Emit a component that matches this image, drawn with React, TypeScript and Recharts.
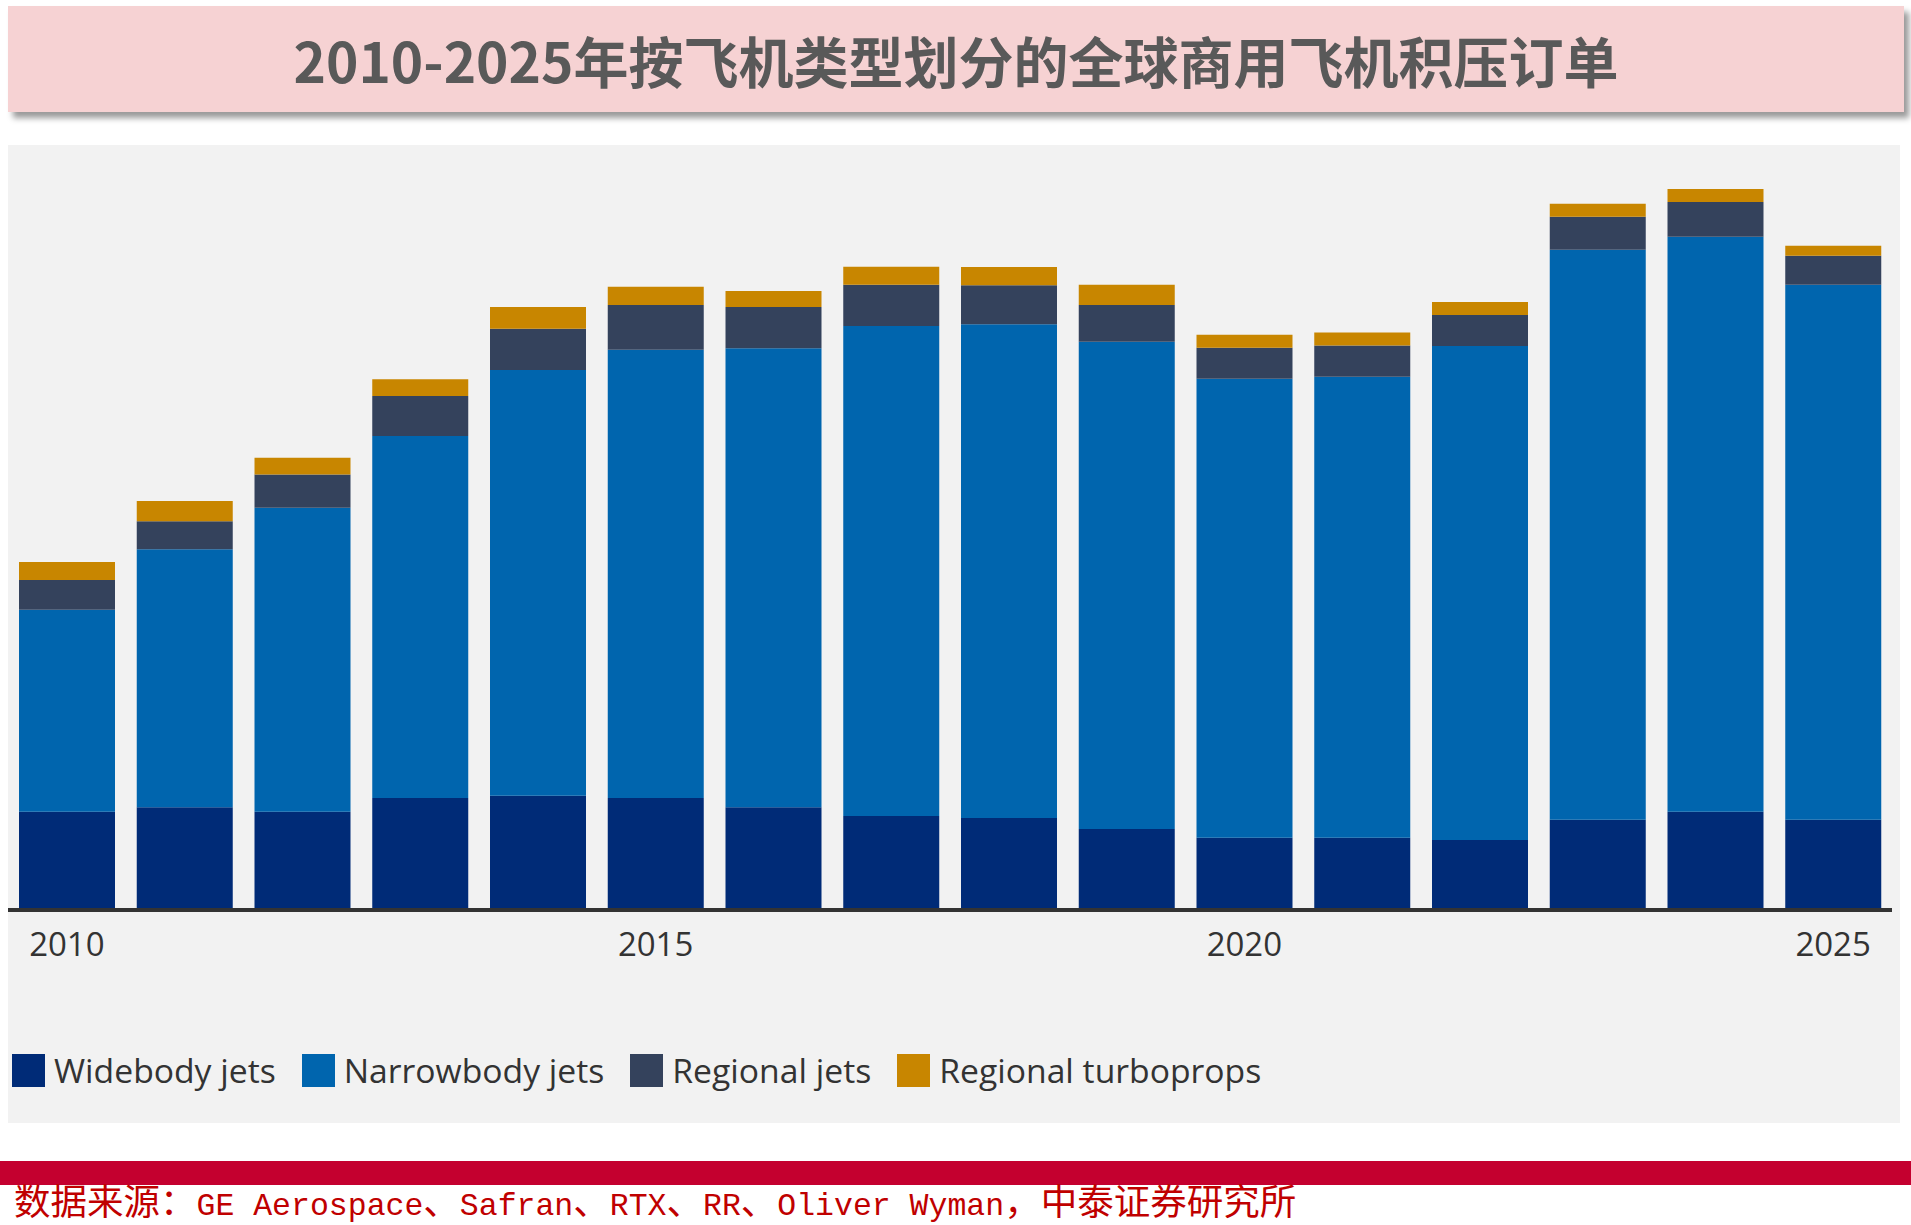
import React from 'react'
import { BarChart, Bar, XAxis, YAxis, CartesianGrid, Legend } from 'recharts'

// values (aircraft in backlog)
const years = [2010, 2011, 2012, 2013, 2014, 2015, 2016, 2017, 2018, 2019, 2020, 2021, 2022, 2023, 2024, 2025]
const widebody = [2290, 2400, 2290, 2620, 2670, 2620, 2400, 2190, 2140, 1880, 1670, 1670, 1620, 2100, 2290, 2100]
const narrowbody = [4810, 6140, 7240, 8620, 10140, 10670, 10930, 11670, 11760, 11600, 10930, 10980, 11760, 13570, 13690, 12740]
const regional = [710, 670, 790, 950, 980, 1070, 980, 980, 930, 880, 740, 740, 740, 790, 830, 690]
const turboprops = [430, 480, 400, 400, 520, 430, 380, 430, 430, 480, 310, 310, 310, 310, 310, 240]
const gridTicks = [5000, 10000, 15000]

const series = [
  { key: 'widebody', name: 'Widebody jets', color: '#002b77' },
  { key: 'narrowbody', name: 'Narrowbody jets', color: '#0065ae' },
  { key: 'regional', name: 'Regional jets', color: '#34425c' },
  { key: 'turboprops', name: 'Regional turboprops', color: '#c88600' },
]

const data = years.map((y, i) => ({
  year: String(y),
  widebody: widebody[i],
  narrowbody: narrowbody[i],
  regional: regional[i],
  turboprops: turboprops[i],
}))

const YearTick = (props: any) => {
  const { x, y, payload } = props
  return (
    <text x={x} y={y + 46} textAnchor="middle" fill="#333" fontSize={33} fontFamily="'Open Sans', sans-serif">
      {payload.value}
    </text>
  )
}

const LegendContent = () => (
  <div style={{ display: 'flex', alignItems: 'center', height: 33, fontFamily: "'Open Sans', sans-serif", fontSize: 33.7, color: '#333', whiteSpace: 'nowrap' }}>
    {series.map((s) => (
      <div key={s.key} style={{ display: 'flex', alignItems: 'center', marginRight: 26 }}>
        <span style={{ display: 'inline-block', width: 33, height: 33, background: s.color, marginRight: 9 }} />
        <span style={{ lineHeight: '33px' }}>{s.name}</span>
      </div>
    ))}
  </div>
)

const cjk = { fontFamily: "'Noto Sans CJK SC'", fontSize: 36.5 }

export default function App() {
  return (
    <div style={{ position: 'absolute', left: 0, top: 0, width: 1911, height: 1225, background: '#fff', overflow: 'hidden' }}>
      {/* title band */}
      <div
        style={{
          position: 'absolute', left: 8, top: 6, width: 1896, height: 106, background: '#f6d2d3',
          boxShadow: '5px 6px 6px rgba(0,0,0,0.4)', display: 'flex', alignItems: 'center', justifyContent: 'center',
          fontFamily: "'Noto Sans CJK SC', sans-serif", fontWeight: 700, fontSize: 55, color: '#595959',
        }}
      >
        2010-2025年按飞机类型划分的全球商用飞机积压订单
      </div>

      {/* chart panel */}
      <div style={{ position: 'absolute', left: 8, top: 145, width: 1892, height: 978, background: '#f2f2f2' }}>
        <BarChart width={1892} height={978} data={data} margin={{ top: 28, right: 8, bottom: 163, left: 0 }} barSize={96}>
          <CartesianGrid
            vertical={false}
            stroke="#e4e4e4"
            strokeWidth={2}
            horizontalCoordinatesGenerator={({ yAxis }: any) =>
              yAxis && typeof yAxis.scale === 'function' ? gridTicks.map((t) => yAxis.scale(t)) : []
            }
          />
          <XAxis
            dataKey="year"
            interval={4}
            height={50}
            tickLine={false}
            tickSize={0}
            tickMargin={0}
            axisLine={{ stroke: '#333', strokeWidth: 4 }}
            tick={<YearTick />}
          />
          <YAxis hide domain={[-48, 17500]} ticks={gridTicks} />
          {series.map((s) => (
            <Bar key={s.key} dataKey={s.key} name={s.name} stackId="a" fill={s.color} isAnimationActive={false} />
          ))}
          <Legend
            layout="horizontal"
            verticalAlign="middle"
            align="center"
            content={<LegendContent />}
            wrapperStyle={{ position: 'absolute', left: 4, top: 909, width: 1500 }}
          />
        </BarChart>
      </div>

      {/* footer */}
      <div style={{ position: 'absolute', left: 0, top: 1161, width: 1911, height: 24, background: '#c4002f' }} />
      <div
        style={{
          position: 'absolute', left: 14, top: 1183, height: 34, lineHeight: '34px', whiteSpace: 'nowrap',
          color: '#c00000', fontFamily: "'Liberation Mono', 'Noto Sans CJK SC', monospace", fontSize: 31.5,
        }}
      >
        <span style={cjk}>数据来源：</span>GE Aerospace
        <span style={cjk}>、</span>Safran
        <span style={cjk}>、</span>RTX
        <span style={cjk}>、</span>RR
        <span style={cjk}>、</span>Oliver Wyman
        <span style={cjk}>，中泰证券研究所</span>
      </div>
    </div>
  )
}
